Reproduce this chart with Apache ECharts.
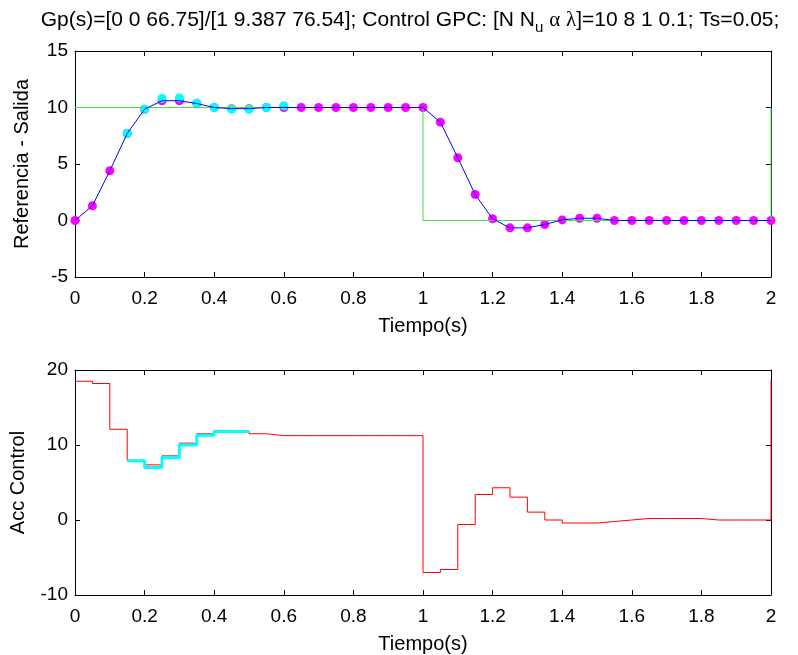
<!DOCTYPE html>
<html>
<head>
<meta charset="utf-8">
<script src="https://cdn.jsdelivr.net/npm/echarts@6/dist/echarts.min.js"></script>
<style>
html,body{margin:0;padding:0;background:#fff;}
#c{width:798px;height:655px;}
</style>
</head>
<body>
<div id="c"></div>
<script>
// ---- data ----
var timeS = [0,0.05,0.1,0.15,0.2,0.25,0.3,0.35,0.4,0.45,0.5,0.55,0.6,0.65,0.7,0.75,0.8,0.85,0.9,0.95,
  1.0,1.05,1.1,1.15,1.2,1.25,1.3,1.35,1.4,1.45,1.5,1.55,1.6,1.65,1.7,1.75,1.8,1.85,1.9,1.95,2.0];
var reference = [10,10,10,10,10,10,10,10,10,10,10,10,10,10,10,10,10,10,10,10,
  0,0,0,0,0,0,0,0,0,0,0,0,0,0,0,0,0,0,0,0,10];
var output = [0,1.3,4.4,7.7,9.85,10.6,10.6,10.35,10.0,9.9,9.9,10.0,10.0,10,10,10,10,10,10,10,
  10.0,8.7,5.55,2.3,0.15,-0.65,-0.65,-0.35,0.05,0.2,0.2,0.0,0,0,0,0,0,0,0,0,0];
var cyanTime = [0.15,0.2,0.25,0.3,0.35,0.4,0.45,0.5,0.55,0.6];
var cyanOutput = [7.7,9.85,10.8,10.85,10.4,10.0,9.85,9.85,10.0,10.15];
var control = [18.5,18.2,12.1,7.95,7.35,8.55,10.25,11.5,11.95,11.85,11.5,
  11.25,11.25,11.25,11.25,11.25,11.25,11.25,11.25,11.25,
  -7.0,-6.6,-0.6,3.4,4.3,3.05,1.05,0.0,-0.4,-0.4,-0.2,0.0,
  0.2,0.2,0.2,0.2,0,0,0,0,18.6];
var cyanCtrlTime = [0.15,0.2,0.25,0.3,0.35,0.4,0.45,0.5];
var cyanControl = [7.9,7.0,8.3,10.0,11.3,11.8,11.8,11.8];
var xTicks = {min:0, max:2, interval:0.2};
var yTopTicks = {min:-5, max:15, interval:5};
var yBotTicks = {min:-10, max:20, interval:10};

function zip(a,b){ return a.map(function(v,i){ return [v,b[i]]; }); }

var FONT = 'Liberation Sans, Arial, sans-serif';
var FS_TICK = 19;
var FS_NAME = 20;
var FS_TITLE = 21;
var chart = echarts.init(document.getElementById('c'), null, {renderer:'canvas'});

function xAx(grid, show){
  return {
    type:'value', gridIndex:grid, min:xTicks.min, max:xTicks.max, interval:xTicks.interval,
    position: show ? 'bottom' : 'top',
    name: show ? 'Tiempo(s)' : '', nameLocation:'middle', nameGap:39,
    nameTextStyle:{fontFamily:FONT, fontSize:FS_NAME, color:'#000'},
    axisLine:{show:true, onZero:false, lineStyle:{color:'#000', width:1}},
    axisTick:{show:true, inside:true, length:5, lineStyle:{color:'#000'}},
    axisLabel:{show:show, margin:12, fontFamily:FONT, fontSize:FS_TICK, color:'#000',
      formatter:function(v){ return String(parseFloat(v.toFixed(1))); }},
    splitLine:{show:false}
  };
}
function yAx(grid, t, show, name, gap){
  return {
    type:'value', gridIndex:grid, min:t.min, max:t.max, interval:t.interval,
    position: show ? 'left' : 'right',
    name: show ? name : '', nameLocation:'middle', nameGap:gap || 40, nameRotate:90,
    nameTextStyle:{fontFamily:FONT, fontSize:FS_NAME, color:'#000'},
    axisLine:{show:true, onZero:false, lineStyle:{color:'#000', width:1}},
    axisTick:{show:true, inside:true, length:5, lineStyle:{color:'#000'}},
    axisLabel:{show:show, margin:7, fontFamily:FONT, fontSize:FS_TICK, color:'#000'},
    splitLine:{show:false}
  };
}

var option = {
  animation:false,
  backgroundColor:'#fff',
  graphic:[{
    type:'text', x:410, y:20,
    style:{
      text:'Gp(s)=[0 0 66.75]/[1 9.387 76.54]; Control GPC: [N N{sub|u} {gr|α} {gr|λ}]=10 8 1 0.1; Ts=0.05;',
      fontFamily:FONT, fontSize:FS_TITLE, fill:'#000', align:'center', verticalAlign:'middle',
      rich:{
        sub:{fontFamily:FONT, fontSize:15, padding:[15,0,0,0], fill:'#000'},
        gr:{fontFamily:'Liberation Serif, serif', fontSize:FS_TITLE, fill:'#000'}
      }
    }
  }],
  grid:[
    {left:75, top:51, width:696, height:226},
    {left:75, top:370, width:696, height:226}
  ],
  xAxis:[xAx(0,true), xAx(0,false), xAx(1,true), xAx(1,false)],
  yAxis:[yAx(0,yTopTicks,true,'Referencia - Salida',43), yAx(0,yTopTicks,false,''),
         yAx(1,yBotTicks,true,'Acc Control',47), yAx(1,yBotTicks,false,'')],
  series:[
    {type:'line', xAxisIndex:0, yAxisIndex:0, step:'end', data:zip(timeS, reference),
     showSymbol:false, lineStyle:{color:'#44e044', width:1}, itemStyle:{color:'#44e044'}},
    {type:'line', xAxisIndex:0, yAxisIndex:0, data:zip(timeS, output),
     showSymbol:false, lineStyle:{color:'#0000ff', width:1}, itemStyle:{color:'#0000ff'}},
    {type:'scatter', xAxisIndex:0, yAxisIndex:0, data:zip(timeS, output),
     symbolSize:9, itemStyle:{color:'#ff00ff', opacity:1}},
    {type:'scatter', xAxisIndex:0, yAxisIndex:0, data:zip(cyanTime, cyanOutput),
     symbolSize:9, itemStyle:{color:'#00ffff', opacity:1}},
    {type:'line', xAxisIndex:2, yAxisIndex:2, step:'end', data:zip(timeS, control),
     showSymbol:false, lineStyle:{color:'#ff0000', width:1}, itemStyle:{color:'#ff0000'}},
    {type:'line', xAxisIndex:2, yAxisIndex:2, step:'end', data:zip(cyanCtrlTime, cyanControl),
     showSymbol:false, lineStyle:{color:'#00ffff', width:3}, itemStyle:{color:'#00ffff'}}
  ]
};
chart.setOption(option);
</script>
</body>
</html>
